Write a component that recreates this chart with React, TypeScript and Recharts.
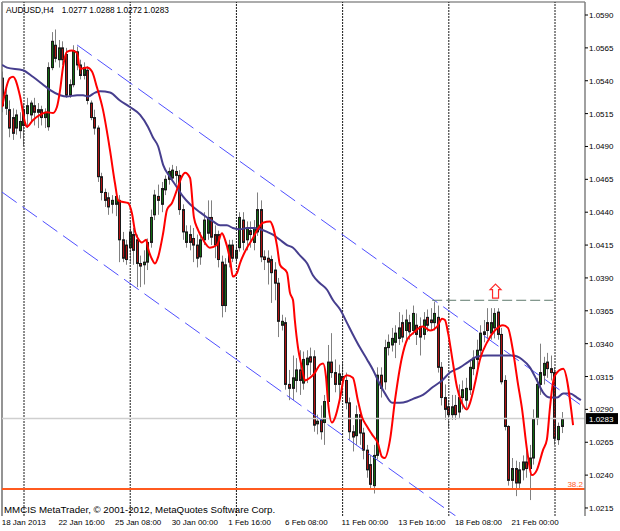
import React from 'react';
import { ComposedChart, Bar, Line, XAxis, YAxis, ReferenceLine, ReferenceDot } from 'recharts';

// AUDUSD H4 bars, 18 Jan 2013 00:00 .. 25 Feb 2013 08:00 (bar index = position on the time axis)
const opens = [
  1.0542, 1.0519, 1.0518, 1.0512, 1.0504, 1.0502, 1.0506, 1.0515, 1.0514, 1.0521,
  1.0516, 1.0518, 1.0512, 1.0505, 1.0550, 1.0567, 1.0556, 1.0565, 1.0560, 1.0529,
  1.0537, 1.0562, 1.0552, 1.0544, 1.0548, 1.0523, 1.0512, 1.0504, 1.0467, 1.0455,
  1.0451, 1.0446, 1.0446, 1.0449, 1.0419, 1.0415, 1.0413, 1.0423, 1.0419, 1.0401,
  1.0400, 1.0402, 1.0417, 1.0438, 1.0452, 1.0446, 1.0457, 1.0465, 1.0466, 1.0471,
  1.0468, 1.0442, 1.0417, 1.0423, 1.0420, 1.0415, 1.0406, 1.0419, 1.0424, 1.0436,
  1.0423, 1.0423, 1.0402, 1.0369, 1.0402, 1.0415, 1.0405, 1.0413, 1.0434, 1.0419,
  1.0426, 1.0417, 1.0425, 1.0442, 1.0406, 1.0405, 1.0404, 1.0396, 1.0386, 1.0354,
  1.0356, 1.0309, 1.0306, 1.0312, 1.0320, 1.0310, 1.0324, 1.0330, 1.0330, 1.0279,
  1.0282, 1.0280, 1.0296, 1.0326, 1.0318, 1.0309, 1.0315, 1.0312, 1.0295, 1.0273,
  1.0270, 1.0286, 1.0272, 1.0259, 1.0248, 1.0232, 1.0255, 1.0316, 1.0311, 1.0337,
  1.0339, 1.0341, 1.0344, 1.0356, 1.0350, 1.0356, 1.0350, 1.0354, 1.0353, 1.0347,
  1.0360, 1.0358, 1.0356, 1.0360, 1.0322, 1.0299, 1.0292, 1.0286, 1.0293, 1.0288,
  1.0299, 1.0297, 1.0305, 1.0321, 1.0328, 1.0335, 1.0347, 1.0356, 1.0348, 1.0352,
  1.0364, 1.0347, 1.0312, 1.0277, 1.0236, 1.0245, 1.0234, 1.0244, 1.0250, 1.0245,
  1.0253, 1.0283, 1.0309, 1.0316, 1.0326, 1.0321, 1.0318, 1.0267, 1.0277,
];
const highs = [
  1.0547, 1.0535, 1.0525, 1.0519, 1.0518, 1.0516, 1.0523, 1.0527, 1.0525, 1.0527,
  1.0523, 1.0521, 1.0519, 1.0554, 1.0577, 1.0579, 1.0571, 1.0570, 1.0565, 1.0541,
  1.0567, 1.0566, 1.0556, 1.0554, 1.0551, 1.0525, 1.0518, 1.0506, 1.0470, 1.0458,
  1.0455, 1.0453, 1.0457, 1.0453, 1.0425, 1.0419, 1.0433, 1.0428, 1.0423, 1.0407,
  1.0411, 1.0420, 1.0442, 1.0457, 1.0461, 1.0463, 1.0468, 1.0474, 1.0476, 1.0475,
  1.0472, 1.0446, 1.0430, 1.0430, 1.0428, 1.0423, 1.0425, 1.0440, 1.0449, 1.0449,
  1.0430, 1.0426, 1.0407, 1.0405, 1.0419, 1.0419, 1.0415, 1.0440, 1.0440, 1.0433,
  1.0433, 1.0434, 1.0455, 1.0449, 1.0411, 1.0411, 1.0407, 1.0402, 1.0390, 1.0362,
  1.0360, 1.0320, 1.0331, 1.0329, 1.0335, 1.0334, 1.0335, 1.0337, 1.0335, 1.0286,
  1.0293, 1.0301, 1.0339, 1.0348, 1.0328, 1.0324, 1.0326, 1.0318, 1.0299, 1.0278,
  1.0293, 1.0290, 1.0276, 1.0263, 1.0255, 1.0263, 1.0322, 1.0322, 1.0343, 1.0347,
  1.0352, 1.0354, 1.0364, 1.0362, 1.0366, 1.0362, 1.0369, 1.0363, 1.0360, 1.0364,
  1.0366, 1.0367, 1.0372, 1.0369, 1.0326, 1.0309, 1.0297, 1.0301, 1.0301, 1.0309,
  1.0312, 1.0314, 1.0328, 1.0335, 1.0343, 1.0354, 1.0358, 1.0367, 1.0367, 1.0367,
  1.0367, 1.0352, 1.0316, 1.0278, 1.0253, 1.0251, 1.0250, 1.0255, 1.0259, 1.0263,
  1.0290, 1.0314, 1.0340, 1.0330, 1.0333, 1.0331, 1.0322, 1.0280, 1.0288,
];
const lows = [
  1.0516, 1.0514, 1.0497, 1.0495, 1.0499, 1.0496, 1.0490, 1.0504, 1.0509, 1.0506,
  1.0504, 1.0506, 1.0504, 1.0502, 1.0548, 1.0554, 1.0550, 1.0552, 1.0527, 1.0527,
  1.0535, 1.0548, 1.0541, 1.0541, 1.0522, 1.0510, 1.0499, 1.0463, 1.0449, 1.0444,
  1.0438, 1.0439, 1.0437, 1.0402, 1.0402, 1.0400, 1.0402, 1.0400, 1.0383, 1.0383,
  1.0385, 1.0396, 1.0413, 1.0434, 1.0438, 1.0440, 1.0453, 1.0461, 1.0463, 1.0461,
  1.0438, 1.0419, 1.0413, 1.0411, 1.0402, 1.0398, 1.0400, 1.0415, 1.0419, 1.0415,
  1.0405, 1.0398, 1.0360, 1.0364, 1.0398, 1.0402, 1.0402, 1.0410, 1.0411, 1.0411,
  1.0413, 1.0411, 1.0422, 1.0402, 1.0396, 1.0385, 1.0371, 1.0373, 1.0345, 1.0350,
  1.0305, 1.0297, 1.0297, 1.0303, 1.0301, 1.0305, 1.0310, 1.0316, 1.0273, 1.0271,
  1.0267, 1.0263, 1.0293, 1.0314, 1.0303, 1.0297, 1.0301, 1.0290, 1.0267, 1.0258,
  1.0263, 1.0263, 1.0252, 1.0238, 1.0229, 1.0226, 1.0252, 1.0299, 1.0305, 1.0331,
  1.0334, 1.0329, 1.0339, 1.0341, 1.0343, 1.0343, 1.0347, 1.0339, 1.0331, 1.0343,
  1.0349, 1.0350, 1.0350, 1.0318, 1.0293, 1.0282, 1.0276, 1.0282, 1.0282, 1.0283,
  1.0290, 1.0291, 1.0301, 1.0316, 1.0321, 1.0329, 1.0341, 1.0344, 1.0343, 1.0344,
  1.0343, 1.0309, 1.0274, 1.0232, 1.0229, 1.0224, 1.0230, 1.0236, 1.0238, 1.0221,
  1.0248, 1.0278, 1.0301, 1.0309, 1.0314, 1.0312, 1.0263, 1.0263, 1.0272,
];
const closes = [
  1.0521, 1.0529, 1.0504, 1.0500, 1.0514, 1.0509, 1.0518, 1.0521, 1.0523, 1.0516,
  1.0518, 1.0512, 1.0516, 1.0550, 1.0570, 1.0557, 1.0565, 1.0556, 1.0529, 1.0537,
  1.0563, 1.0552, 1.0544, 1.0550, 1.0525, 1.0512, 1.0504, 1.0467, 1.0455, 1.0449,
  1.0444, 1.0449, 1.0452, 1.0419, 1.0405, 1.0404, 1.0425, 1.0411, 1.0401, 1.0399,
  1.0402, 1.0417, 1.0436, 1.0453, 1.0449, 1.0458, 1.0465, 1.0471, 1.0472, 1.0468,
  1.0442, 1.0425, 1.0425, 1.0417, 1.0415, 1.0405, 1.0419, 1.0434, 1.0436, 1.0421,
  1.0415, 1.0404, 1.0369, 1.0400, 1.0415, 1.0405, 1.0411, 1.0436, 1.0417, 1.0428,
  1.0423, 1.0428, 1.0442, 1.0406, 1.0404, 1.0402, 1.0394, 1.0386, 1.0357, 1.0357,
  1.0309, 1.0306, 1.0314, 1.0320, 1.0312, 1.0328, 1.0329, 1.0326, 1.0278, 1.0281,
  1.0273, 1.0296, 1.0326, 1.0318, 1.0309, 1.0317, 1.0312, 1.0295, 1.0273, 1.0269,
  1.0286, 1.0272, 1.0259, 1.0244, 1.0233, 1.0255, 1.0316, 1.0306, 1.0337, 1.0341,
  1.0344, 1.0348, 1.0352, 1.0345, 1.0358, 1.0349, 1.0363, 1.0347, 1.0345, 1.0358,
  1.0354, 1.0356, 1.0363, 1.0322, 1.0299, 1.0290, 1.0286, 1.0292, 1.0286, 1.0299,
  1.0305, 1.0306, 1.0322, 1.0329, 1.0335, 1.0348, 1.0349, 1.0350, 1.0356, 1.0363,
  1.0347, 1.0311, 1.0277, 1.0236, 1.0245, 1.0234, 1.0244, 1.0250, 1.0245, 1.0253,
  1.0283, 1.0309, 1.0318, 1.0325, 1.0321, 1.0318, 1.0268, 1.0277, 1.0283,
];

// indicator lines: [bar index, price]
const fastMa: [number, number][] = [
  [-0.2, 1.0520], [2.0, 1.0542], [2.9, 1.0543], [4.9, 1.0528], [6.3, 1.0508], [6.8, 1.0505],
  [8.5, 1.0510], [10.5, 1.0514], [12.5, 1.0516], [14.2, 1.05155], [15.3, 1.0520], [16.2, 1.0533],
  [17.0, 1.0550], [18.1, 1.0562], [19.6, 1.0563], [21.0, 1.0561], [21.8, 1.0549], [23.8, 1.0550],
  [25.2, 1.0547], [26.6, 1.0535], [28.3, 1.0518], [30.3, 1.0487], [31.7, 1.0462], [32.6, 1.0449],
  [33.7, 1.0448], [35.4, 1.0447], [36.5, 1.0439], [37.4, 1.0425], [38.2, 1.0420], [39.3, 1.0417],
  [40.5, 1.0419], [41.0, 1.0413], [42.2, 1.0404], [43.0, 1.0401], [43.9, 1.0406], [45.3, 1.0424],
  [46.4, 1.0442], [47.8, 1.0447], [49.2, 1.0457], [50.6, 1.0467], [51.5, 1.0470], [52.9, 1.0466],
  [54.0, 1.0436], [55.1, 1.0427], [56.6, 1.0419], [58.5, 1.0413], [60.5, 1.0415], [61.9, 1.0424],
  [62.8, 1.0419], [64.2, 1.0404], [65.0, 1.0391], [66.2, 1.0394], [67.0, 1.0401], [69.0, 1.0413],
  [70.4, 1.0419], [71.8, 1.0426], [73.5, 1.0432], [75.5, 1.0433], [76.3, 1.0429], [77.5, 1.0414],
  [78.3, 1.0400], [80.3, 1.0394], [81.1, 1.0379], [82.0, 1.0373], [82.5, 1.0358], [83.4, 1.0337],
  [84.5, 1.0322], [85.4, 1.0312], [86.8, 1.0314], [88.2, 1.0318], [89.6, 1.0324], [90.5, 1.0325],
  [91.3, 1.0315], [91.9, 1.0295], [93.0, 1.0280], [93.9, 1.0284], [95.3, 1.0299], [96.4, 1.0314],
  [97.2, 1.0316], [98.9, 1.0314], [100.3, 1.0297], [101.5, 1.0284], [102.9, 1.0277], [104.3, 1.0271],
  [106.0, 1.0264], [107.1, 1.0254], [107.9, 1.0253], [109.4, 1.0267], [110.8, 1.0297], [112.8, 1.0330],
  [114.2, 1.0343], [115.9, 1.0348], [118.7, 1.0353], [120.7, 1.0350], [122.7, 1.0353], [124.1, 1.0359],
  [124.9, 1.0358], [125.8, 1.0348], [126.9, 1.0330], [128.3, 1.0307], [129.7, 1.0295], [131.1, 1.0290],
  [132.0, 1.0295], [133.4, 1.0310], [134.8, 1.0328], [136.8, 1.0341], [139.0, 1.0350], [141.3, 1.0354],
  [142.7, 1.0352], [144.1, 1.0335], [145.5, 1.0310], [146.7, 1.0290], [148.1, 1.0259], [149.5, 1.0240],
  [150.9, 1.0244], [152.6, 1.0259], [153.7, 1.0267], [154.6, 1.0292], [155.4, 1.0310], [156.0, 1.0316],
  [158.3, 1.0321], [161.1, 1.0278],
];
const slowMa: [number, number][] = [
  [-0.2, 1.0552], [1.2, 1.0550], [5.7, 1.0548], [8.5, 1.0543], [11.4, 1.0537], [13.3, 1.0533],
  [16.2, 1.0529], [18.1, 1.0528], [21.0, 1.0529], [22.7, 1.0529], [24.1, 1.0528], [26.1, 1.0531],
  [27.5, 1.0532], [30.3, 1.0531], [33.1, 1.0525], [35.9, 1.0520], [38.8, 1.0514], [41.0, 1.0505],
  [42.4, 1.0497], [43.9, 1.0490], [45.3, 1.0476], [47.2, 1.0467], [49.2, 1.0459], [50.9, 1.0452],
  [52.9, 1.0446], [55.7, 1.0440], [57.7, 1.0436], [59.4, 1.0433], [61.4, 1.0430], [63.3, 1.0430],
  [65.0, 1.0428], [67.0, 1.0427], [69.0, 1.0428], [70.7, 1.0428], [72.7, 1.0427], [74.7, 1.0425],
  [76.3, 1.0423], [78.3, 1.0419], [80.3, 1.0415], [82.0, 1.0413], [84.0, 1.0407], [86.0, 1.0401],
  [87.6, 1.0392], [89.6, 1.0386], [91.6, 1.0381], [93.3, 1.0373], [95.3, 1.0366], [97.2, 1.0356],
  [98.9, 1.0347], [100.9, 1.0337], [102.9, 1.0328], [104.6, 1.0320], [106.0, 1.0312], [108.0, 1.0302],
  [110.0, 1.0295], [112.2, 1.0295], [114.2, 1.0296], [115.9, 1.0298], [118.7, 1.0301], [121.5, 1.0307],
  [124.1, 1.0312], [126.3, 1.0318], [129.2, 1.0322], [131.4, 1.0326], [133.9, 1.0330], [136.8, 1.0331],
  [140.5, 1.0331], [144.1, 1.0331], [146.7, 1.0328], [148.9, 1.0322], [150.9, 1.0312], [152.6, 1.0303],
  [154.6, 1.0299], [156.6, 1.0299], [158.3, 1.0302], [160.2, 1.0302], [162.2, 1.0299], [163.3, 1.0297],
];

// channel, resistance and levels
const upperChannel = [{ x: 21.0, y: 1.05672 }, { x: 164.47, y: 1.0291 }];
const lowerChannel = [{ x: -0.215, y: 1.04553 }, { x: 127.9, y: 1.0209 }];
const resistance = [{ x: 121.3, y: 1.0373 }, { x: 155.5, y: 1.0373 }];
const fibLevel = 1.02294;
const fibLabel = '38.2';
const arrowAt = { x: 139.2, y: 1.0380 };
const lastClose = 1.0283;

const weekStarts = [6, 36, 66, 96, 126, 156];
const xTicks = [0, 16, 32, 48, 64, 80, 96, 112, 128, 144];
const xTickLabels = [
  '18 Jan 2013', '22 Jan 16:00', '25 Jan 08:00', '30 Jan 00:00', '1 Feb 16:00',
  '6 Feb 08:00', '11 Feb 00:00', '13 Feb 16:00', '18 Feb 08:00', '21 Feb 00:00',
];
const yTicks = [
  1.0215, 1.024, 1.0265, 1.029, 1.0315, 1.034, 1.0365, 1.039,
  1.0415, 1.044, 1.0465, 1.049, 1.0515, 1.054, 1.0565, 1.059,
];

const bars = opens.map((o, i) => ({
  i, o, h: highs[i], l: lows[i], c: closes[i], range: [lows[i], highs[i]],
}));
const fastData = fastMa.map(([i, v]) => ({ i, v }));
const slowData = slowMa.map(([i, v]) => ({ i, v }));

const FONT = '"Liberation Sans", Arial, sans-serif';

const Candle = (props: any) => {
  const { x, y, width, height, payload } = props;
  if (x == null || y == null) return null;
  const top = Math.min(y, y + height);
  const bot = Math.max(y, y + height);
  const span = payload.h - payload.l;
  const toY = (p: number) => (span === 0 ? top : top + ((payload.h - p) / span) * (bot - top));
  const cx = Math.floor(x + width / 2) + 0.5;
  const yo = toY(payload.o);
  const yc = toY(payload.c);
  const bTop = Math.min(yo, yc);
  const bH = Math.max(Math.abs(yc - yo), 1);
  const up = payload.c >= payload.o;
  return (
    <g>
      <line x1={cx} x2={cx} y1={top} y2={bot} stroke="#808080" strokeWidth={1} />
      <rect x={cx - 1} y={bTop} width={2} height={bH}
        fill={up ? '#126a12' : '#b01212'} stroke="#1a1a1a" strokeWidth={1} />
    </g>
  );
};

const XTick = (props: any) => {
  const { x, y, index } = props;
  return (
    <text x={x - 1} y={y + 9} fontSize={8} fontFamily={FONT} fill="#000" textAnchor="start">
      {xTickLabels[index]}
    </text>
  );
};

const YTick = (props: any) => {
  const { x, y, payload } = props;
  if (Math.abs(payload.value - lastClose) < 1e-9) {
    return (
      <g>
        <rect x={x + 1} y={y - 5.5} width={32} height={11} fill="#000" />
        <text x={x + 4} y={y + 3} fontSize={8} fontFamily={FONT} fill="#fff">{lastClose.toFixed(4)}</text>
      </g>
    );
  }
  return (
    <g>
      <line x1={x} x2={x + 3} y1={y} y2={y} stroke="#000" />
      <text x={x + 4} y={y + 3} fontSize={8} fontFamily={FONT} fill="#000">{payload.value.toFixed(4)}</text>
    </g>
  );
};

const UpArrow = (props: any) => {
  const { cx, cy } = props;
  const d = `M${cx},${cy - 7} L${cx + 5.5},${cy - 1.5} L${cx + 3},${cy - 1.5} L${cx + 3},${cy + 7} L${cx - 3},${cy + 7} L${cx - 3},${cy - 1.5} L${cx - 5.5},${cy - 1.5} Z`;
  return <path d={d} fill="#fff" stroke="#ff2a2a" strokeWidth={1.2} />;
};

const FibLabel = (props: any) => {
  const vb = props.viewBox || {};
  return (
    <text x={vb.x + vb.width - 2} y={vb.y - 2.5} textAnchor="end" fontSize={8} fontFamily={FONT} fill="#ff5a1f">
      {fibLabel}
    </text>
  );
};

export default function App() {
  return (
    <div style={{ position: 'absolute', left: 0, top: 0, width: 620, height: 531, background: '#fff' }}>
      <ComposedChart width={620} height={531} data={bars} margin={{ top: 2, right: 0, bottom: 0, left: 2 }}>
        <XAxis type="number" dataKey="i" domain={[-0.215, 164.47]} allowDataOverflow ticks={xTicks}
          interval={0} height={15} axisLine={false} tickLine={false} tickSize={0} tickMargin={0} tick={<XTick />} />
        <YAxis orientation="right" domain={[1.02089, 1.05999]} allowDataOverflow width={35}
          ticks={[...yTicks, lastClose]} interval={0} tickSize={0} tickMargin={0} tickLine={false}
          axisLine={{ stroke: '#808080', strokeWidth: 1.5 }} tick={<YTick />} />

        <ReferenceLine x={-0.215} stroke="#707070" strokeWidth={1.5} />
        <ReferenceLine y={1.05999} stroke="#909090" strokeWidth={1.5} />
        {weekStarts.map((w) => (
          <ReferenceLine key={w} x={w} stroke="#1a1a1a" strokeDasharray="2 1" />
        ))}
        <ReferenceLine y={lastClose} stroke="#cfcfcf" strokeWidth={1.5} />
        <ReferenceLine y={fibLevel} stroke="#ff5a1f" strokeWidth={2} label={<FibLabel />} />
        <ReferenceLine segment={upperChannel} stroke="#4f4fff" strokeDasharray="18 7" ifOverflow="hidden" />
        <ReferenceLine segment={lowerChannel} stroke="#4f4fff" strokeDasharray="18 7" ifOverflow="hidden" />
        <ReferenceLine segment={resistance} stroke="#5e7a6c" strokeDasharray="10 4" />

        <Bar dataKey="range" barSize={3} shape={<Candle />} isAnimationActive={false} />
        <Line data={slowData} dataKey="v" type="monotone" stroke="#463e8e" strokeWidth={2}
          dot={false} activeDot={false} isAnimationActive={false} />
        <Line data={fastData} dataKey="v" type="monotone" stroke="#ff0000" strokeWidth={2}
          dot={false} activeDot={false} isAnimationActive={false} />
        <ReferenceDot x={arrowAt.x} y={arrowAt.y} r={6} shape={<UpArrow />} />
      </ComposedChart>
      <svg width={620} height={531} style={{ position: 'absolute', left: 0, top: 0, pointerEvents: 'none' }}>
        <text x={6} y={12.5} fontSize={8.3} fontFamily={FONT} fill="#000">AUDUSD,H4</text>
        <text x={61.7} y={12.5} fontSize={8.3} fontFamily={FONT} fill="#000">1.0277</text>
        <text x={89.3} y={12.5} fontSize={8.3} fontFamily={FONT} fill="#000">1.0288</text>
        <text x={116.5} y={12.5} fontSize={8.3} fontFamily={FONT} fill="#000">1.0272</text>
        <text x={143.5} y={12.5} fontSize={8.3} fontFamily={FONT} fill="#000">1.0283</text>
        <text x={4} y={513} fontSize={9.7} fontFamily={FONT} fill="#000">
          MMCIS MetaTrader, © 2001-2012, MetaQuotes Software Corp.
        </text>
      </svg>
    </div>
  );
}
